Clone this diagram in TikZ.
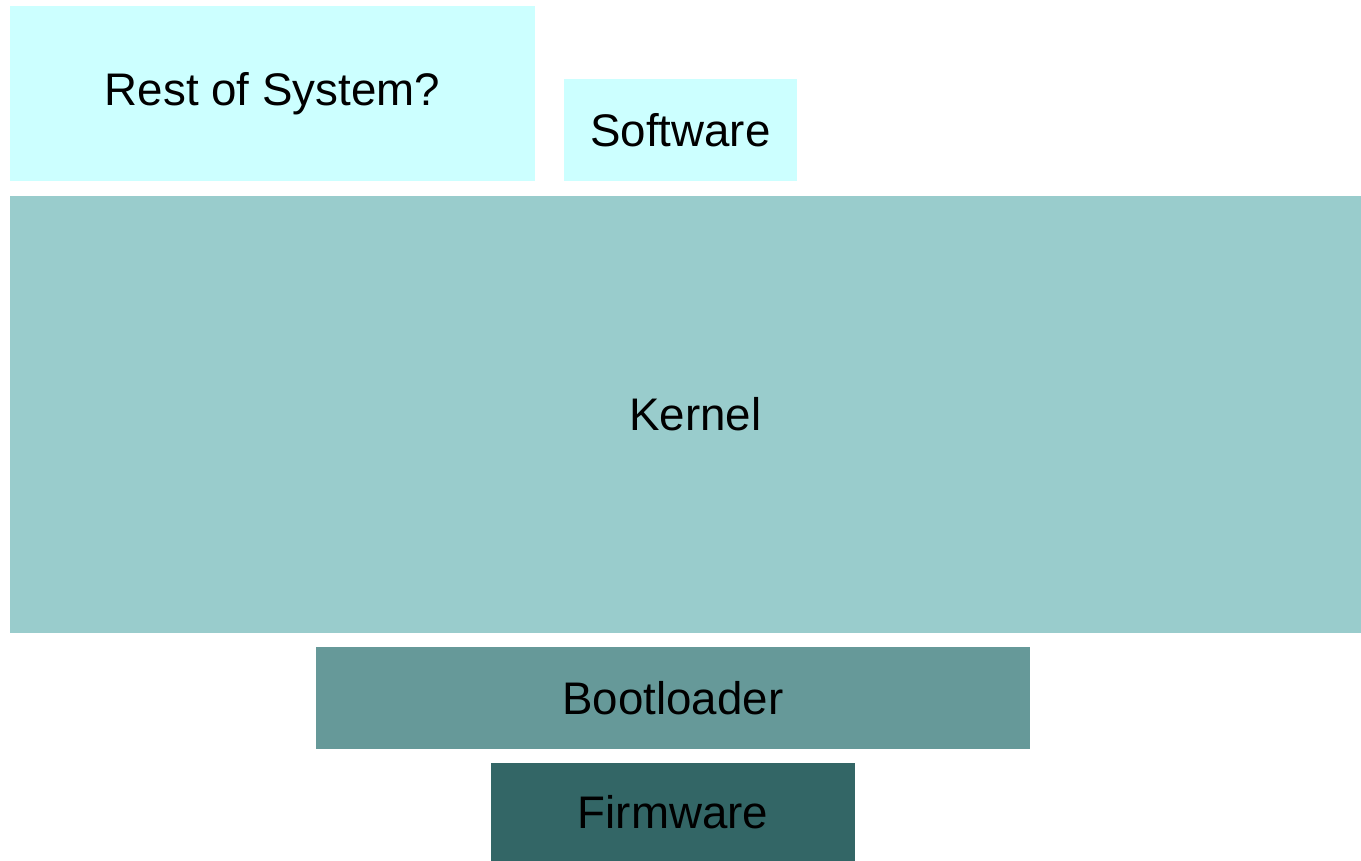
\documentclass[tikz,border=0pt]{standalone}
\usepackage{fontspec}
\setmainfont{Liberation Sans}
\usepackage{xcolor}
\usepackage{tikz}
\usetikzlibrary{positioning}

\definecolor{paleCyan}{HTML}{CCFFFF}
\definecolor{kernelTeal}{HTML}{99CCCC}
\definecolor{bootTeal}{HTML}{669999}
\definecolor{fwTeal}{HTML}{336666}

\begin{document}
\begin{tikzpicture}[x=0.02cm, y=-0.02cm,
    layer/.style={inner sep=0pt, outer sep=0pt, anchor=north west,
        font=\fontsize{26}{31}\selectfont}]
    \useasboundingbox (0,0) rectangle (1361,861);

    % lớp trên cùng
    \node[layer, fill=paleCyan, minimum width=10.5cm, minimum height=3.5cm] (rest) at (10,6) {\raisebox{-0.2cm}{Rest of System?}};
    \node[layer, fill=paleCyan, minimum width=4.66cm, minimum height=2.04cm] (software) at (564,79) {Software};

    % nhân
    \node[layer, fill=kernelTeal, minimum width=27.02cm, minimum height=8.74cm] (kernel) at (10,196) {\hspace*{0.4cm}Kernel};

    % các lớp khởi động
    \node[layer, fill=bootTeal, minimum width=14.28cm, minimum height=2.04cm] (bootloader) at (316,647) {Bootloader};
    \node[layer, fill=fwTeal, minimum width=7.28cm, minimum height=1.96cm] (firmware) at (491,763) {Firmware};
\end{tikzpicture}
\end{document}
